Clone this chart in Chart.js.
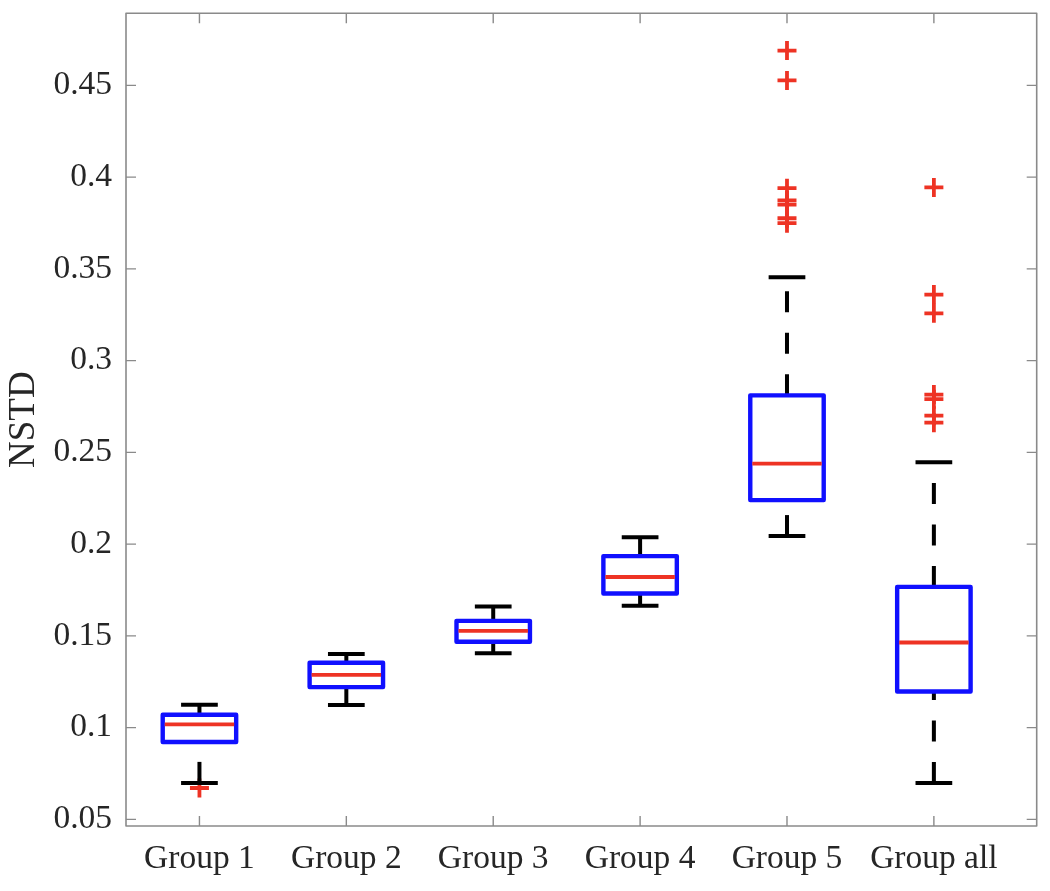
<!DOCTYPE html>
<html>
<head>
<meta charset="utf-8">
<script src="https://cdn.jsdelivr.net/npm/chart.js@4.4.1/dist/chart.umd.min.js"></script>
<style>
html,body{margin:0;padding:0;background:#ffffff;}
#wrap{width:1050px;height:891px;position:relative;}
canvas{display:block;}
</style>
</head>
<body>
<div id="wrap"><canvas id="c" width="1050" height="891"></canvas></div>
<script>
// ---- data ----
const categories = ['Group 1', 'Group 2', 'Group 3', 'Group 4', 'Group 5', 'Group all'];
const whiskerLow  = [0.0699, 0.1124, 0.1405, 0.1664, 0.2044, 0.0699];
const q1          = [0.0922, 0.1221, 0.1468, 0.1731, 0.2240, 0.1197];
const medians     = [0.1018, 0.1288, 0.1527, 0.1821, 0.2439, 0.1464];
const q3          = [0.1070, 0.1354, 0.1582, 0.1935, 0.2811, 0.1767];
const whiskerHigh = [0.1125, 0.1401, 0.1660, 0.2038, 0.3454, 0.2446];
const outliersG1   = [0.0671];
const outliersG5   = [0.4690, 0.4527, 0.3940, 0.3873, 0.3850, 0.3776, 0.3749];
const outliersGAll = [0.3944, 0.3360, 0.3258, 0.2815, 0.2790, 0.2700, 0.2662];
const yTicks = [0.05, 0.1, 0.15, 0.2, 0.25, 0.3, 0.35, 0.4, 0.45];
const yLabel = 'NSTD';

const outlierGroups = [[0, outliersG1], [4, outliersG5], [5, outliersGAll]];
const outlierPoints = [];
outlierGroups.forEach(([i, arr]) => arr.forEach(v => outlierPoints.push({x: i, y: v})));

const FONT = "'Liberation Serif', 'Times New Roman', serif";
const TXT = '#262626';
const BLUE = '#1010ff';
const RED = '#ee3324';
const FRAME = '#8a8a8a';

const boxPlugin = {
  id: 'boxes',
  afterDatasetsDraw(chart) {
    const {ctx} = chart;
    const xs = chart.scales.x, ys = chart.scales.y;
    const halfBox = xs.getPixelForValue(0.25) - xs.getPixelForValue(0);
    const halfCap = xs.getPixelForValue(0.125) - xs.getPixelForValue(0);
    ctx.save();
    categories.forEach((c, i) => {
      const cx = xs.getPixelForValue(i);
      const pLo = ys.getPixelForValue(whiskerLow[i]);
      const p1 = ys.getPixelForValue(q1[i]);
      const pm = ys.getPixelForValue(medians[i]);
      const p3 = ys.getPixelForValue(q3[i]);
      const pHi = ys.getPixelForValue(whiskerHigh[i]);
      // whiskers (dashed), drawn from low value to high value
      ctx.strokeStyle = '#000';
      ctx.lineWidth = 4;
      ctx.lineCap = 'butt';
      ctx.setLineDash([21, 20.5]);
      ctx.beginPath(); ctx.moveTo(cx, pLo); ctx.lineTo(cx, p1); ctx.stroke();
      ctx.beginPath(); ctx.moveTo(cx, p3); ctx.lineTo(cx, pHi); ctx.stroke();
      ctx.setLineDash([]);
      // caps
      ctx.beginPath();
      ctx.moveTo(cx - halfCap, pLo); ctx.lineTo(cx + halfCap, pLo);
      ctx.moveTo(cx - halfCap, pHi); ctx.lineTo(cx + halfCap, pHi);
      ctx.stroke();
      // box
      ctx.strokeStyle = BLUE;
      ctx.lineWidth = 4.4;
      ctx.lineJoin = 'round';
      ctx.strokeRect(cx - halfBox, p3, 2 * halfBox, p1 - p3);
      // median
      ctx.strokeStyle = RED;
      ctx.lineWidth = 3.8;
      ctx.beginPath(); ctx.moveTo(cx - halfBox + 2, pm); ctx.lineTo(cx + halfBox - 2, pm); ctx.stroke();
    });
    ctx.restore();
  }
};

const framePlugin = {
  id: 'frame',
  afterDraw(chart) {
    const {ctx, chartArea: a} = chart;
    const xs = chart.scales.x, ys = chart.scales.y;
    ctx.save();
    ctx.strokeStyle = FRAME;
    ctx.lineWidth = 1.6;
    ctx.lineJoin = 'round';
    ctx.strokeRect(a.left, a.top, a.right - a.left, a.bottom - a.top);
    ctx.lineWidth = 1.4;
    const L = 10;
    ctx.beginPath();
    xs.ticks.forEach(t => {
      const px = xs.getPixelForValue(t.value);
      ctx.moveTo(px, a.bottom); ctx.lineTo(px, a.bottom - L);
      ctx.moveTo(px, a.top); ctx.lineTo(px, a.top + L);
    });
    ys.ticks.forEach(t => {
      const py = ys.getPixelForValue(t.value);
      ctx.moveTo(a.left, py); ctx.lineTo(a.left + L, py);
      ctx.moveTo(a.right, py); ctx.lineTo(a.right - L, py);
    });
    ctx.stroke();
    ctx.restore();
  }
};

new Chart(document.getElementById('c'), {
  type: 'scatter',
  data: {
    datasets: [{
      label: 'Outliers',
      data: outlierPoints,
      pointStyle: 'cross',
      pointRadius: 9.5,
      pointHoverRadius: 9.5,
      borderColor: RED,
      backgroundColor: RED,
      borderWidth: 3.8,
      pointBorderWidth: 3.8
    }]
  },
  options: {
    responsive: false,
    animation: false,
    events: [],
    layout: {padding: {top: 11, right: 7, left: 0, bottom: 0}},
    plugins: {legend: {display: false}, tooltip: {enabled: false}},
    scales: {
      x: {
        type: 'linear',
        min: -0.5,
        max: 5.7,
        afterBuildTicks: s => { s.ticks = categories.map((c, i) => ({value: i})); },
        afterFit: s => { s.height = 65; s.paddingLeft = 0; s.paddingRight = 0; },
        grid: {display: false, drawTicks: false},
        border: {display: false},
        ticks: {
          autoSkip: false,
          maxRotation: 0,
          padding: 13,
          color: TXT,
          font: {family: FONT, size: 33.5},
          callback: v => categories[v]
        }
      },
      y: {
        type: 'linear',
        min: 0.0464,
        max: 0.4893,
        afterBuildTicks: s => { s.ticks = yTicks.map(v => ({value: v})); },
        afterFit: s => { s.width = 126; s.paddingTop = 0; s.paddingBottom = 0; },
        grid: {display: false, drawTicks: false},
        border: {display: false},
        ticks: {
          padding: 14,
          color: TXT,
          font: {family: FONT, size: 33.5},
          callback: v => String(parseFloat(v.toFixed(2)))
        },
        title: {
          display: true,
          text: yLabel,
          color: TXT,
          font: {family: FONT, size: 37},
          padding: {top: 2, bottom: 0}
        }
      }
    }
  },
  plugins: [boxPlugin, framePlugin]
});
</script>
</body>
</html>
